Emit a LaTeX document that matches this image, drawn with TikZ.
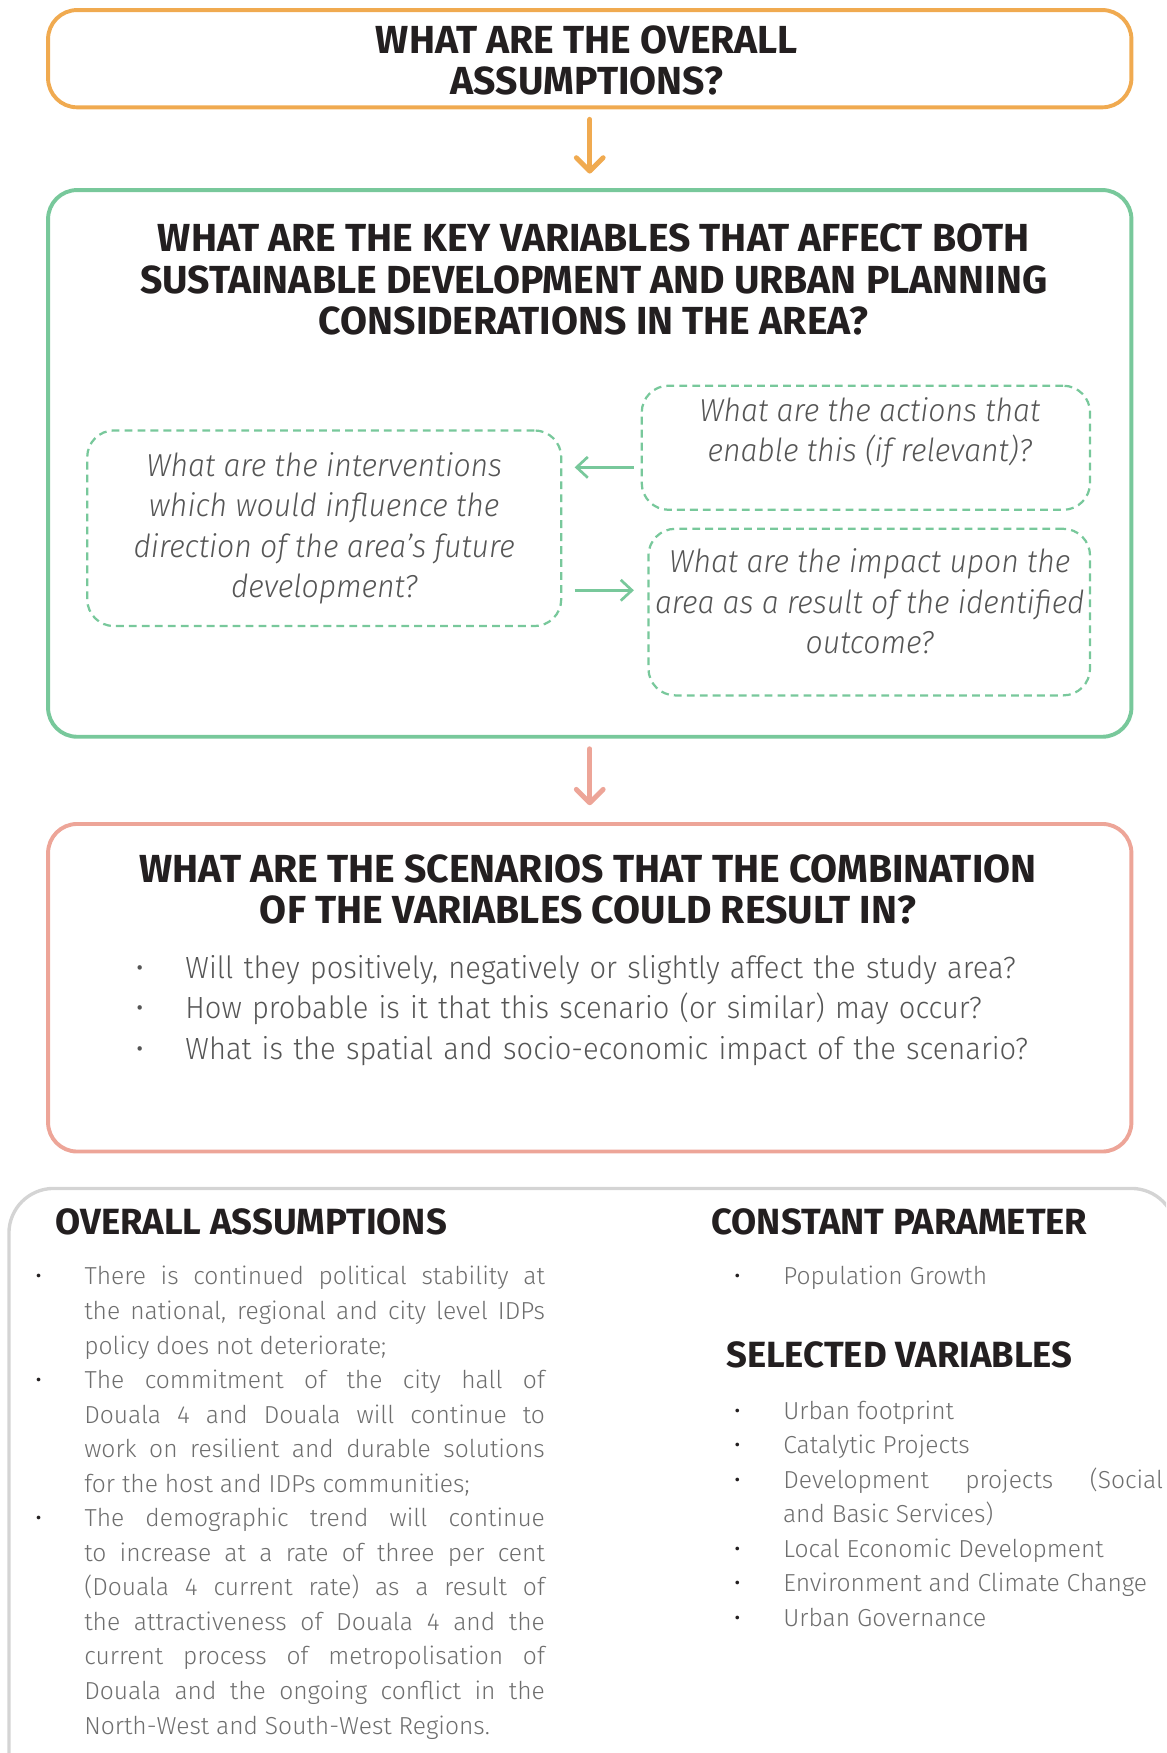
\documentclass[tikz,border=0pt]{standalone}
\usepackage{fontspec}
\setmainfont{Fira Sans Light}[ItalicFont={Fira Sans Light Italic}, BoldFont={Fira Sans Bold}]
\newfontfamily\condfont{Fira Sans Light}[FakeStretch=0.95, ItalicFont={Fira Sans Light Italic}, BoldFont={Fira Sans Bold}]
\usepackage{enumitem}
\usepackage{tikz}
\usetikzlibrary{arrows.meta}
\definecolor{askorange}{HTML}{F0AA50}
\definecolor{keygreen}{HTML}{78C89B}
\definecolor{scensalmon}{HTML}{EDA598}
\definecolor{framegray}{HTML}{D4D4D4}
\definecolor{inktext}{HTML}{231F20}
\definecolor{softtext}{HTML}{555555}
\definecolor{bodytext}{HTML}{6E6E6E}
\setlist[itemize]{itemsep=0pt, topsep=0pt, parsep=0pt, partopsep=0pt, align=left, labelwidth=3pt}
\tikzset{
  bigbox/.style={ draw=#1, line width=1.75pt, rounded corners=13pt, minimum width=484.5pt, inner sep=0pt }
}
\tikzset{
  qbox/.style={ draw=keygreen, dash pattern=on 3.5pt off 2.3pt, line width=1pt, rounded corners=12pt, inner sep=0pt }
}
\tikzset{
  headq/.style={ font=\bfseries\fontsize{17.5}{18.7}\selectfont, text=inktext, align=center, inner sep=0pt },
  subq/.style={ font=\condfont\itshape\fontsize{14.2}{18}\selectfont, text=softtext, align=center, inner sep=0pt },
  headlist/.style={ font=\bfseries\fontsize{16.3}{18}\selectfont, text=inktext, inner sep=0pt },
  bodylist/.style={ font=\fontsize{11}{15.45}\selectfont, text=bodytext, align=justify, inner sep=0pt, anchor=north west }
}
\tikzset{
  flowarrow/.style={ draw=#1, line width=2.2pt, line cap=round, -{Straight Barb[length=6pt, width=12pt, round]} },
  sidearrow/.style={ draw=keygreen, line width=1.2pt, -{Straight Barb[length=5pt, width=9.3pt]} }
}

\begin{document}
\begin{tikzpicture}[x=0.5pt, y=-0.5pt]
      \clip (0,0) rectangle (1043,1568);

      % the three questions
      \node[bigbox=askorange, minimum height=43.5pt] (ask) at (527.5,52.5) {};
      \node[headq] (asktxt) at (525,54) {WHAT ARE THE OVERALL\\ASSUMPTIONS?};

      \node[bigbox=keygreen, minimum height=244.5pt] (keyvar) at (527.5,414.5) {};
      \node[headq] (keyvartxt) at (531,250) {WHAT ARE THE KEY VARIABLES THAT AFFECT BOTH\\SUSTAINABLE DEVELOPMENT AND URBAN PLANNING\\CONSIDERATIONS IN THE AREA?};

      \node[qbox, minimum width=212pt, minimum height=87.5pt, subq] (interv) at (290,472.5) {What are the interventions\\which would influence the\\direction of the area’s future\\development?};

      \node[qbox, minimum width=200.5pt, minimum height=55.5pt] (actions) at (774.5,400.5) {};
      \node[subq] (actionstxt) at (778,387) {What are the actions that\\enable this (if relevant)?};

      \node[qbox, minimum width=197.5pt, minimum height=74.5pt] (impact) at (777.5,547.5) {};
      \node[subq] (impacttxt) at (778,538) {What are the impact upon the\\area as a result of the identified\\outcome?};

      \node[bigbox=scensalmon, minimum height=146.5pt] (scen) at (527.5,883.5) {};
      \node[headq] (scentxt) at (526,795.5) {WHAT ARE THE SCENARIOS THAT THE COMBINATION\\OF THE VARIABLES COULD RESULT IN?};
      \node[bodylist, font=\condfont\fontsize{13.7}{18}\selectfont, text=softtext, align=left, text width=440pt] (scenlist) at (121,839) {%
        \begin{itemize}[leftmargin=21.5pt, labelsep=18.5pt, label=\textbullet]
          \item Will they positively, negatively or slightly affect the study area?
          \item How probable is it that this scenario (or similar) may occur?
          \item What is the spatial and socio-economic impact of the scenario?
        \end{itemize}};

      \coordinate (la) at ([yshift=-8.75pt]actions.west);
      \coordinate (ra) at ([yshift=-27.75pt]interv.east);
      \begin{scope}
        \draw[flowarrow=askorange, shorten <=4.5pt, shorten >=6.5pt] (ask.south) -- (keyvar.north);
        \draw[flowarrow=scensalmon, shorten <=4.5pt, shorten >=7.5pt] (keyvar.south) -- (scen.north);
        \draw[sidearrow, shorten <=3pt, shorten >=5.5pt] (la) -- (la -| interv.east);
        \draw[sidearrow, shorten <=5.5pt, shorten >=6pt] (ra) -- (ra -| impact.west);
      \end{scope}

      % summary panel
      \draw[draw=framegray, line width=1.5pt, rounded corners=20pt] (8,1063) rectangle (1052,1640);

      \node[headlist, anchor=west] (assumhead) at (49,1093) {OVERALL ASSUMPTIONS};
      \node[bodylist, text width=228pt] (assumlist) at (31,1118) {%
        \begin{itemize}[leftmargin=22pt, labelsep=19pt, label={\color{inktext}\textbullet}]
          \item There is continued political stability at\linebreak the national, regional and city level IDPs\linebreak policy does not deteriorate;
          \item The commitment of the city hall of\linebreak Douala 4 and Douala will continue to\linebreak work on resilient and durable solutions\linebreak for the host and IDPs communities;
          \item The demographic trend will continue\linebreak to increase at a rate of three per cent\linebreak (Douala 4 current rate) as a result of\linebreak the attractiveness of Douala 4 and the\linebreak current process of metropolisation of\linebreak Douala and the ongoing conflict in the\linebreak North-West and South-West Regions.
        \end{itemize}};

      \node[headlist] (consthead) at (804.5,1093) {CONSTANT PARAMETER};
      \node[bodylist, text width=192pt] (constlist) at (656,1118) {%
        \begin{itemize}[leftmargin=22pt, labelsep=19pt, label={\color{inktext}\textbullet}]
          \item Population Growth
        \end{itemize}};

      \node[headlist] (varhead) at (804.5,1212) {SELECTED VARIABLES};
      \node[bodylist, text width=192pt] (varlist) at (656,1238) {%
        \begin{itemize}[leftmargin=22pt, labelsep=19pt, label={\color{inktext}\textbullet}]
          \item Urban footprint
          \item Catalytic Projects
          \item Development projects (Social\linebreak and Basic Services)
          \item Local Economic Development
          \item Environment and Climate Change
          \item Urban Governance
        \end{itemize}};
\end{tikzpicture}
\end{document}
